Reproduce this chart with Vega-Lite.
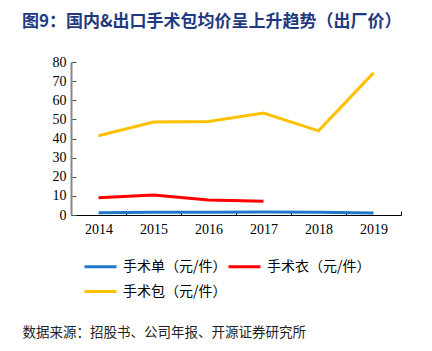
{
  "$schema": "https://vega.github.io/schema/vega-lite/v6.json",
  "width": 330,
  "height": 153,
  "autosize": "none",
  "padding": {"left": 71, "top": 62, "right": 31, "bottom": 136},
  "background": "white",
  "title": {
    "text": "图9：国内&出口手术包均价呈上升趋势（出厂价）",
    "anchor": "start",
    "frame": "group",
    "dx": -49,
    "offset": 24,
    "font": "Noto Sans CJK SC",
    "fontSize": 17,
    "fontWeight": "bold",
    "color": "#1F3A80"
  },
  "data": {
    "values": [
      {"year": "2014", "series": "手术单（元/件）", "value": 1.2},
      {"year": "2015", "series": "手术单（元/件）", "value": 1.5},
      {"year": "2016", "series": "手术单（元/件）", "value": 1.5},
      {"year": "2017", "series": "手术单（元/件）", "value": 1.6},
      {"year": "2018", "series": "手术单（元/件）", "value": 1.5},
      {"year": "2019", "series": "手术单（元/件）", "value": 1.0},
      {"year": "2014", "series": "手术衣（元/件）", "value": 9.0},
      {"year": "2015", "series": "手术衣（元/件）", "value": 10.5},
      {"year": "2016", "series": "手术衣（元/件）", "value": 7.8},
      {"year": "2017", "series": "手术衣（元/件）", "value": 7.2},
      {"year": "2014", "series": "手术包（元/件）", "value": 41.4},
      {"year": "2015", "series": "手术包（元/件）", "value": 48.6},
      {"year": "2016", "series": "手术包（元/件）", "value": 48.9},
      {"year": "2017", "series": "手术包（元/件）", "value": 53.3},
      {"year": "2018", "series": "手术包（元/件）", "value": 44.0},
      {"year": "2019", "series": "手术包（元/件）", "value": 74.3}
    ]
  },
  "mark": {"type": "line", "strokeWidth": 3},
  "encoding": {
    "x": {
      "field": "year",
      "type": "ordinal",
      "scale": {"paddingInner": 0, "paddingOuter": 0},
      "axis": {
        "labelAngle": 0,
        "labelFont": "Liberation Serif",
        "labelFontSize": 14,
        "labelColor": "black",
        "labelPadding": 11,
        "domainColor": "black",
        "domainWidth": 1,
        "tickColor": "black",
        "tickBand": "extent",
        "tickSize": -4,
        "title": "数据来源：招股书、公司年报、开源证券研究所",
        "titleAnchor": "start",
        "titleAlign": "left",
        "titleX": -49,
        "titleY": 110,
        "titleFont": "Noto Sans CJK SC",
        "titleFontSize": 13.5,
        "titleFontWeight": "normal",
        "titleColor": "#222222"
      }
    },
    "y": {
      "field": "value",
      "type": "quantitative",
      "scale": {"domain": [0, 80], "nice": false},
      "axis": {
        "values": [0, 10, 20, 30, 40, 50, 60, 70, 80],
        "grid": false,
        "title": null,
        "labelFont": "Liberation Serif",
        "labelFontSize": 14,
        "labelColor": "black",
        "labelPadding": 10,
        "domainColor": "#888888",
        "domainWidth": 2,
        "tickColor": "#555555",
        "tickSize": -5
      }
    },
    "color": {
      "field": "series",
      "type": "nominal",
      "scale": {
        "domain": ["手术单（元/件）", "手术衣（元/件）", "手术包（元/件）"],
        "range": ["#1F77C8", "#FF0000", "#FFC000"]
      },
      "legend": {
        "title": null,
        "orient": "none",
        "legendX": 12,
        "legendY": 187,
        "direction": "horizontal",
        "columns": 2,
        "symbolType": "stroke",
        "symbolSize": 1024,
        "symbolStrokeWidth": 3,
        "labelFont": "Noto Sans CJK SC",
        "labelFontSize": 14,
        "labelColor": "black",
        "labelOffset": 5,
        "labelLimit": 200,
        "columnPadding": -7,
        "rowPadding": 0
      }
    }
  },
  "config": {"view": {"stroke": null}}
}
